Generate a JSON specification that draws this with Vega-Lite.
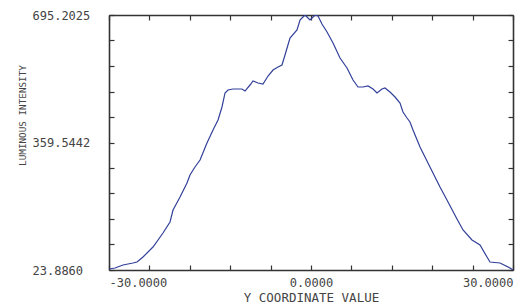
{
  "$schema": "https://vega.github.io/schema/vega-lite/v6.json",
  "width": 404,
  "height": 255,
  "autosize": {"type": "none"},
  "padding": {"left": 109, "top": 15, "right": 12, "bottom": 34},
  "background": "white",
  "config": {"view": {"stroke": null}},
  "data": {"values": [
    {"x": -30, "v": 26.5}, {"x": -29.11, "v": 29.1}, {"x": -27.92, "v": 37.0}, {"x": -26.44, "v": 42.3},
    {"x": -25.84, "v": 44.9}, {"x": -24.95, "v": 58.1}, {"x": -23.47, "v": 84.4}, {"x": -21.98, "v": 121.3},
    {"x": -20.94, "v": 150.2}, {"x": -20.49, "v": 181.8}, {"x": -19.45, "v": 216.1}, {"x": -18.42, "v": 252.9},
    {"x": -17.97, "v": 274.0}, {"x": -17.23, "v": 295.0}, {"x": -16.48, "v": 313.5}, {"x": -15.45, "v": 358.2},
    {"x": -14.55, "v": 392.5}, {"x": -13.81, "v": 418.8}, {"x": -13.22, "v": 453.0}, {"x": -12.77, "v": 489.9},
    {"x": -12.33, "v": 497.8}, {"x": -11.58, "v": 500.4}, {"x": -10.25, "v": 500.4}, {"x": -9.80, "v": 495.1},
    {"x": -9.06, "v": 510.9}, {"x": -8.61, "v": 521.5}, {"x": -7.87, "v": 516.2}, {"x": -7.13, "v": 513.6},
    {"x": -6.38, "v": 534.6}, {"x": -5.64, "v": 550.4}, {"x": -4.90, "v": 558.3}, {"x": -4.31, "v": 563.6},
    {"x": -3.86, "v": 589.9}, {"x": -3.12, "v": 634.6}, {"x": -2.08, "v": 655.7}, {"x": -1.63, "v": 682.0},
    {"x": -1.19, "v": 690.0}, {"x": -0.89, "v": 695.2}, {"x": -0.59, "v": 690.0}, {"x": -0.15, "v": 682.0},
    {"x": 0.30, "v": 690.0}, {"x": 0.59, "v": 695.2}, {"x": 1.04, "v": 692.5}, {"x": 1.63, "v": 671.5},
    {"x": 2.38, "v": 650.4}, {"x": 3.27, "v": 621.5}, {"x": 4.31, "v": 582.0}, {"x": 5.35, "v": 555.7},
    {"x": 6.24, "v": 524.1}, {"x": 6.98, "v": 505.6}, {"x": 7.72, "v": 505.6}, {"x": 8.47, "v": 508.3},
    {"x": 9.21, "v": 500.4}, {"x": 9.80, "v": 489.9}, {"x": 10.54, "v": 500.4}, {"x": 10.99, "v": 503.0},
    {"x": 11.73, "v": 492.5}, {"x": 12.48, "v": 479.3}, {"x": 13.22, "v": 463.5}, {"x": 13.66, "v": 439.8},
    {"x": 14.26, "v": 424.0}, {"x": 14.70, "v": 413.5}, {"x": 15.15, "v": 392.5}, {"x": 16.19, "v": 347.7},
    {"x": 17.67, "v": 295.0}, {"x": 19.16, "v": 242.4}, {"x": 20.35, "v": 202.9}, {"x": 21.68, "v": 158.1},
    {"x": 22.58, "v": 129.2}, {"x": 23.91, "v": 102.9}, {"x": 25.10, "v": 89.7}, {"x": 26.14, "v": 58.1},
    {"x": 26.58, "v": 44.9}, {"x": 28.07, "v": 42.3}, {"x": 29.55, "v": 29.1}, {"x": 30, "v": 23.886}
  ]},
  "layer": [
    {
      "mark": {"type": "line", "color": "#33409a", "strokeWidth": 1.2, "clip": true},
      "encoding": {
        "x": {"field": "x", "type": "quantitative",
          "scale": {"domain": [-30, 30], "nice": false, "zero": false},
          "axis": {
            "orient": "bottom",
            "values": [-30, -24, -18, -12, -6, 0, 6, 12, 18, 24, 30],
            "labelExpr": "(datum.value == -30 || datum.value == 0 || datum.value == 30) ? ((datum.value < 0 ? '-' : '') + format(abs(datum.value), '.4f')) : ''",
            "labelFlush": true, "labelOverlap": false, "labelBound": false,
            "tickSize": -5, "tickColor": "#333", "tickWidth": 1.2,
            "domainColor": "#333", "domainWidth": 1.6, "grid": false,
            "labelFont": "DejaVu Sans Mono", "labelFontSize": 12, "labelColor": "#444", "labelPadding": 12,
            "title": "Y COORDINATE VALUE", "titleFont": "DejaVu Sans Mono", "titleFontSize": 12.5,
            "titleFontWeight": "normal", "titleColor": "#444", "titleBaseline": "middle", "titleY": 27
          }
        },
        "y": {"field": "v", "type": "quantitative",
          "scale": {"domain": [23.886, 695.2025], "nice": false, "zero": false},
          "axis": {
            "orient": "left",
            "values": [23.886, 91.0177, 158.1493, 225.281, 292.4126, 359.5442, 426.6759, 493.8075, 560.9392, 628.0709, 695.2025],
            "labelExpr": "(abs(datum.value - 23.886) < 0.01 || abs(datum.value - 359.5442) < 0.01 || abs(datum.value - 695.2025) < 0.01) ? format(datum.value, '.4f') : ''",
            "labelOverlap": false, "labelBound": false, "labelFlush": false,
            "labelAlign": "left", "labelBaseline": "middle", "labelPadding": 82,
            "tickSize": -5, "tickColor": "#333", "tickWidth": 1.2,
            "domainColor": "#333", "domainWidth": 1.6, "grid": false,
            "labelFont": "DejaVu Sans Mono", "labelFontSize": 12, "labelColor": "#444",
            "title": "LUMINOUS INTENSITY", "titleFont": "DejaVu Sans Mono", "titleFontSize": 9.3,
            "titleFontWeight": "normal", "titleColor": "#444", "titleAngle": -90,
            "titleAlign": "center", "titleBaseline": "middle", "titleX": -87, "titleY": 100
          }
        }
      }
    },
    {
      "mark": {"type": "line", "strokeOpacity": 0},
      "encoding": {
        "x": {"field": "x", "type": "quantitative",
          "axis": {
            "orient": "top", "values": [-30, -24, -18, -12, -6, 0, 6, 12, 18, 24, 30],
            "labels": false, "title": null, "tickSize": -5, "tickColor": "#333", "tickWidth": 1.2,
            "domainColor": "#333", "domainWidth": 1.6, "grid": false
          }
        },
        "y": {"field": "v", "type": "quantitative",
          "axis": {
            "orient": "right",
            "values": [23.886, 91.0177, 158.1493, 225.281, 292.4126, 359.5442, 426.6759, 493.8075, 560.9392, 628.0709, 695.2025],
            "labels": false, "title": null, "tickSize": -5, "tickColor": "#333", "tickWidth": 1.2,
            "domainColor": "#333", "domainWidth": 1.6, "grid": false
          }
        }
      }
    }
  ],
  "resolve": {"axis": {"x": "independent", "y": "independent"}}
}
